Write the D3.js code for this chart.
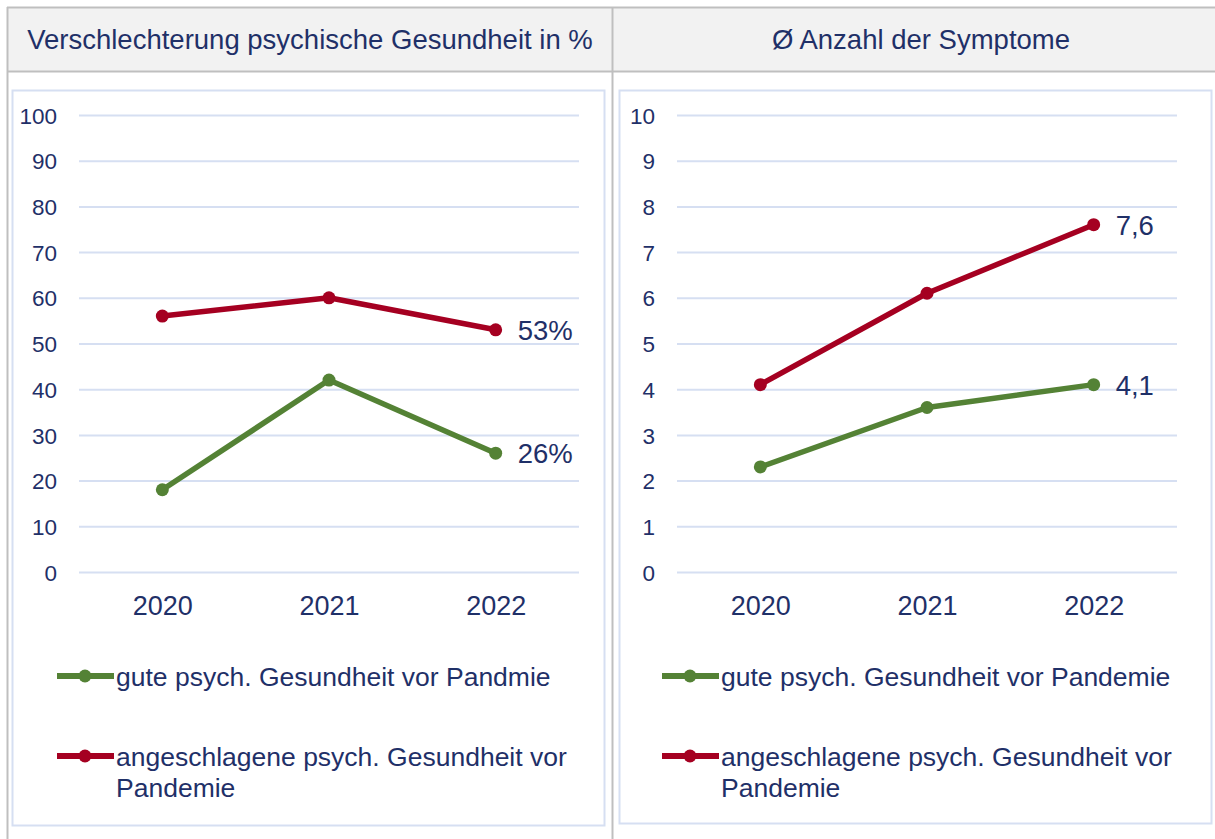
<!DOCTYPE html>
<html><head><meta charset="utf-8">
<script src="https://cdn.jsdelivr.net/npm/d3@7"></script>
<style>
html,body{margin:0;padding:0;background:#fff;}
svg text{font-family:"Liberation Sans",Arial,sans-serif;}
</style></head>
<body><svg id="c" width="1215" height="839"></svg>
<script>
const years = ["2020","2021","2022"];
const seriesNames = ["gute psych. Gesundheit vor Pandmie","angeschlagene psych. Gesundheit vor Pandemie"];
const seriesNamesRight = ["gute psych. Gesundheit vor Pandemie","angeschlagene psych. Gesundheit vor Pandemie"];
const leftGood = [18, 42, 26];
const leftBad = [56, 60, 53];
const rightGood = [2.3, 3.6, 4.1];
const rightBad = [4.1, 6.1, 7.6];
const leftTicks = [0,10,20,30,40,50,60,70,80,90,100];
const rightTicks = [0,1,2,3,4,5,6,7,8,9,10];
const titles = ["Verschlechterung psychische Gesundheit in %","Ø Anzahl der Symptome"];
const leftEndLabels = ["26%","53%"];
const rightEndLabels = ["4,1","7,6"];

const GREEN = "#548235", RED = "#a50021", TXT = "#1f3068", GRID = "#d6dff2";
const svg = d3.select("#c");

// table frame
svg.append("rect").attr("x",7).attr("y",7).attr("width",1215).attr("height",64).attr("fill","#f2f2f2");
svg.append("line").attr("x1",7).attr("x2",1215).attr("y1",7.5).attr("y2",7.5).attr("stroke","#bfbfbf").attr("stroke-width",2);
svg.append("line").attr("x1",7).attr("x2",1215).attr("y1",71.5).attr("y2",71.5).attr("stroke","#bfbfbf").attr("stroke-width",2);
svg.append("line").attr("x1",7.5).attr("x2",7.5).attr("y1",7).attr("y2",839).attr("stroke","#bfbfbf").attr("stroke-width",2);
svg.append("line").attr("x1",612.5).attr("x2",612.5).attr("y1",7).attr("y2",839).attr("stroke","#bfbfbf").attr("stroke-width",2);

svg.append("text").attr("x",310).attr("y",49).attr("text-anchor","middle").attr("font-size",27.5).attr("fill",TXT).text(titles[0]);
svg.append("text").attr("x",921).attr("y",49).attr("text-anchor","middle").attr("font-size",27.5).attr("fill",TXT).text(titles[1]);

function panel(o){
  const g = svg.append("g");
  g.append("rect").attr("x",o.fx).attr("y",90.5).attr("width",o.fw).attr("height",o.fh)
    .attr("fill","#fff").attr("stroke","#d6dff2").attr("stroke-width",2);
  const x = d3.scalePoint().domain(years).range([o.x0+ (o.x1-o.x0)/6, o.x1-(o.x1-o.x0)/6]);
  const y = d3.scaleLinear().domain([0,o.max]).range([572,115]);
  // grid
  const ax = d3.axisLeft(y).tickValues(o.ticks).tickSize(-(o.x1-o.x0)).tickPadding(10).tickFormat(d3.format("d"));
  const ag = g.append("g").attr("transform",`translate(${o.x0},0)`).call(ax);
  ag.select(".domain").remove();
  ag.selectAll(".tick line").attr("stroke",GRID).attr("stroke-width",2);
  ag.selectAll(".tick text").attr("font-size",22.5).attr("fill",TXT).attr("x",o.labelX - o.x0).attr("dy","0.36em");
  const xa = d3.axisBottom(x).tickSize(0).tickPadding(0);
  const xg = g.append("g").attr("transform",`translate(0,605)`).call(xa);
  xg.select(".domain").remove();
  xg.selectAll(".tick text").attr("font-size",27).attr("fill",TXT).attr("dy","0.36em").attr("y",0);

  const line = d3.line().x((d,i)=>x(years[i])).y(d=>y(d));
  [[o.good,GREEN],[o.bad,RED]].forEach(([vals,col])=>{
    g.append("path").datum(vals).attr("d",line).attr("fill","none").attr("stroke",col).attr("stroke-width",5.5).attr("stroke-linejoin","round");
    g.selectAll(null).data(vals).enter().append("circle").attr("cx",(d,i)=>x(years[i])).attr("cy",d=>y(d)).attr("r",6.5).attr("fill",col);
  });
  // end labels
  [[o.good,o.endLabels[0]],[o.bad,o.endLabels[1]]].forEach(([vals,lab])=>{
    g.append("text").attr("x",x(years[2])+22).attr("y",y(vals[2])).attr("dy","0.36em").attr("font-size",27.5).attr("fill",TXT).text(lab);
  });
  // legend
  const lg = [[GREEN,676,[o.names[0]]],[RED,756,o.names2]];
  lg.forEach(([col,ly,lines])=>{
    g.append("line").attr("x1",o.legX).attr("x2",o.legX+57).attr("y1",ly).attr("y2",ly).attr("stroke",col).attr("stroke-width",6);
    g.append("circle").attr("cx",o.legX+28).attr("cy",ly).attr("r",6.5).attr("fill",col);
    lines.forEach((t,i)=>{
      g.append("text").attr("x",o.legX+59).attr("y",ly+i*31).attr("dy","0.36em").attr("font-size",26.5).attr("fill",TXT).text(t);
    });
  });
}

panel({fx:12.5,fw:592,fh:735,x0:79,x1:579,labelX:57,max:100,ticks:leftTicks,good:leftGood,bad:leftBad,endLabels:leftEndLabels,
  names:[seriesNames[0]],names2:["angeschlagene psych. Gesundheit vor","Pandemie"],legX:57});
panel({fx:619.5,fw:592,fh:733,x0:677,x1:1177,labelX:655,max:10,ticks:rightTicks,good:rightGood,bad:rightBad,endLabels:rightEndLabels,
  names:[seriesNamesRight[0]],names2:["angeschlagene psych. Gesundheit vor","Pandemie"],legX:662});
</script></body></html>
